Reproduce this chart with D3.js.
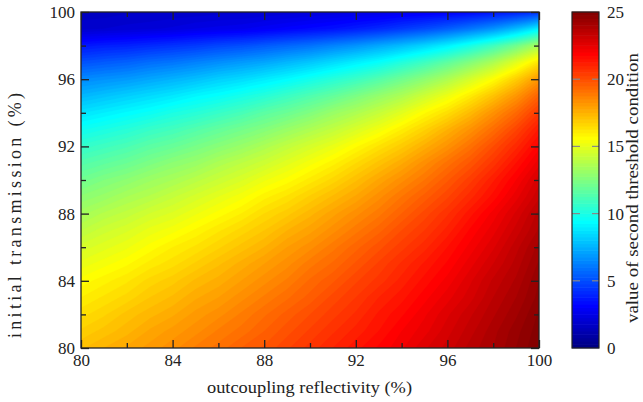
<!DOCTYPE html>
<html><head><meta charset="utf-8">
<script src="https://cdn.jsdelivr.net/npm/d3@7"></script>
<style>
body{margin:0;background:#fff}
svg{display:block}
text{font-family:"Liberation Serif",serif;fill:#222}
</style></head>
<body><svg id="chart" width="643" height="402"></svg>
<script>
// outcoupling reflectivity R (%) — grid columns
const reflectivity = [80,81,82,83,84,85,86,87,88,89,90,91,92,93,94,95,96,97,98,99,100];
// initial transmission T0 (%) — grid rows, top to bottom
const transmission = [100,99,98,97,96,95,94,93,92,91,90,89,88,87,86,85,84,83,82,81,80];
// value of second threshold condition, one row per transmission value
const rowT100 = [1.6,1.6,1.7,1.7,1.8,1.8,1.9,1.9,2.0,2.1,2.2,2.3,2.4,2.5,2.7,2.8,3.0,3.2,3.5,3.8,4.2];
const rowT99 = [1.9,2.0,2.1,2.2,2.3,2.5,2.6,2.7,2.9,3.1,3.3,3.5,3.8,4.1,4.5,4.9,5.4,6.0,6.7,7.7,9.0];
const rowT98 = [3.6,3.8,3.9,4.1,4.3,4.5,4.8,5.0,5.3,5.6,5.9,6.3,6.7,7.2,7.7,8.3,9.0,9.9,10.9,12.1,13.5];
const rowT97 = [5.1,5.3,5.5,5.8,6.0,6.3,6.6,6.9,7.2,7.6,8.0,8.5,9.0,9.5,10.2,10.9,11.7,12.6,13.6,14.9,16.3];
const rowT96 = [6.5,6.7,6.9,7.2,7.5,7.8,8.2,8.5,8.9,9.3,9.8,10.3,10.8,11.4,12.1,12.8,13.6,14.6,15.6,16.8,18.2];
const rowT95 = [7.6,7.9,8.2,8.5,8.8,9.2,9.5,9.9,10.3,10.8,11.3,11.8,12.4,13.0,13.6,14.4,15.2,16.1,17.1,18.2,19.5];
const rowT94 = [8.7,9.0,9.3,9.6,10.0,10.3,10.7,11.1,11.6,12.0,12.5,13.1,13.6,14.2,14.9,15.7,16.4,17.3,18.3,19.3,20.5];
const rowT93 = [9.7,10.0,10.3,10.7,11.0,11.4,11.8,12.2,12.6,13.1,13.6,14.1,14.7,15.3,16.0,16.7,17.5,18.3,19.2,20.2,21.3];
const rowT92 = [10.6,10.9,11.2,11.6,11.9,12.3,12.7,13.1,13.6,14.1,14.6,15.1,15.7,16.3,16.9,17.6,18.3,19.1,20.0,20.9,21.9];
const rowT91 = [11.4,11.7,12.0,12.4,12.8,13.1,13.6,14.0,14.4,14.9,15.4,15.9,16.5,17.1,17.7,18.4,19.1,19.8,20.6,21.5,22.4];
const rowT90 = [12.1,12.5,12.8,13.2,13.5,13.9,14.3,14.7,15.2,15.6,16.1,16.6,17.2,17.8,18.4,19.0,19.7,20.4,21.2,22.0,22.9];
const rowT89 = [12.8,13.1,13.5,13.8,14.2,14.6,15.0,15.4,15.9,16.3,16.8,17.3,17.8,18.4,19.0,19.6,20.2,20.9,21.6,22.4,23.2];
const rowT88 = [13.4,13.8,14.1,14.5,14.8,15.2,15.6,16.0,16.5,16.9,17.4,17.9,18.4,18.9,19.5,20.1,20.7,21.4,22.1,22.8,23.6];
const rowT87 = [14.0,14.4,14.7,15.1,15.4,15.8,16.2,16.6,17.0,17.5,17.9,18.4,18.9,19.4,20.0,20.5,21.1,21.8,22.4,23.1,23.8];
const rowT86 = [14.6,14.9,15.2,15.6,16.0,16.3,16.7,17.1,17.5,18.0,18.4,18.9,19.4,19.9,20.4,20.9,21.5,22.1,22.7,23.4,24.1];
const rowT85 = [15.1,15.4,15.7,16.1,16.4,16.8,17.2,17.6,18.0,18.4,18.9,19.3,19.8,20.3,20.8,21.3,21.8,22.4,23.0,23.6,24.3];
const rowT84 = [15.6,15.9,16.2,16.6,16.9,17.3,17.6,18.0,18.4,18.8,19.3,19.7,20.2,20.6,21.1,21.6,22.1,22.7,23.3,23.8,24.5];
const rowT83 = [16.0,16.3,16.6,17.0,17.3,17.7,18.0,18.4,18.8,19.2,19.6,20.1,20.5,21.0,21.4,21.9,22.4,22.9,23.5,24.0,24.6];
const rowT82 = [16.4,16.7,17.1,17.4,17.7,18.1,18.4,18.8,19.2,19.6,20.0,20.4,20.8,21.3,21.7,22.2,22.7,23.2,23.7,24.2,24.8];
const rowT81 = [16.8,17.1,17.4,17.8,18.1,18.4,18.8,19.1,19.5,19.9,20.3,20.7,21.1,21.5,22.0,22.4,22.9,23.4,23.9,24.4,24.9];
const rowT80 = [17.2,17.5,17.8,18.1,18.4,18.8,19.1,19.5,19.8,20.2,20.6,21.0,21.4,21.8,22.2,22.7,23.1,23.6,24.0,24.5,25.0];
const valueRows = [rowT100,rowT99,rowT98,rowT97,rowT96,rowT95,rowT94,rowT93,rowT92,rowT91,rowT90,
  rowT89,rowT88,rowT87,rowT86,rowT85,rowT84,rowT83,rowT82,rowT81,rowT80];
const axisTicks = [80,84,88,92,96,100];
const axisMinorTicks = [82,86,90,94,98];
const colorTicks = [0,5,10,15,20,25];

const svg = d3.select("#chart");
const M = {left:81, right:539, top:12, bottom:348};
const x = d3.scaleLinear().domain([80,100]).range([M.left, M.right]);
const y = d3.scaleLinear().domain([80,100]).range([M.bottom, M.top]);
const FS = "17px";

function jet(t){
  const c = v => Math.max(0, Math.min(1, v));
  const r = c(1.5 - Math.abs(4*t - 3)), g = c(1.5 - Math.abs(4*t - 2)), b = c(1.5 - Math.abs(4*t - 1));
  return d3.rgb(r*255, g*255, b*255).toString();
}
const vmax = 25, step = 0.25;
const levels = d3.range(0, vmax, step);
const color = v => jet(Math.max(0, Math.min(1, v / vmax)));

// contour bands
const nx = reflectivity.length, ny = transmission.length;
const gx = d3.scaleLinear().domain([0.5, nx - 0.5]).range([x(reflectivity[0]), x(reflectivity[nx-1])]);
const gy = d3.scaleLinear().domain([0.5, ny - 0.5]).range([y(transmission[0]), y(transmission[ny-1])]);
const proj = d3.geoTransform({point: function(px, py){ this.stream.point(gx(px), gy(py)); }});
const path = d3.geoPath(proj);
const contours = d3.contours().size([nx, ny]).thresholds(levels)(valueRows.flat());

svg.append("clipPath").attr("id","clip").append("rect")
  .attr("x", M.left).attr("y", M.top).attr("width", M.right - M.left).attr("height", M.bottom - M.top);
svg.append("g").attr("clip-path","url(#clip)")
  .selectAll("path").data(contours).join("path")
  .attr("d", path)
  .attr("fill", d => color(d.value + step/2))
  .attr("stroke", d => color(d.value + step/2))
  .attr("stroke-width", 0.3);

// axes: ticks inward, mirrored
const tickCol = "#222";
function styleAxis(g){ g.select(".domain").remove(); g.selectAll("line").attr("stroke", tickCol).attr("stroke-width", 1.3);
  g.selectAll("text").style("font-family","Liberation Serif").style("font-size",FS).attr("fill","#222"); }
svg.append("g").attr("transform", `translate(0,${M.bottom})`)
  .call(d3.axisBottom(x).tickValues(axisTicks).tickSize(-8).tickPadding(6).tickFormat(d3.format("d"))).call(styleAxis);
svg.append("g").attr("transform", `translate(0,${M.bottom})`)
  .call(d3.axisBottom(x).tickValues(axisMinorTicks).tickSize(-5).tickFormat("")).call(styleAxis);
svg.append("g").attr("transform", `translate(0,${M.top})`)
  .call(d3.axisTop(x).tickValues(axisTicks).tickSize(-8).tickFormat("")).call(styleAxis);
svg.append("g").attr("transform", `translate(0,${M.top})`)
  .call(d3.axisTop(x).tickValues(axisMinorTicks).tickSize(-5).tickFormat("")).call(styleAxis);
svg.append("g").attr("transform", `translate(${M.left},0)`)
  .call(d3.axisLeft(y).tickValues(axisTicks).tickSize(-8).tickPadding(6).tickFormat(d3.format("d"))).call(styleAxis);
svg.append("g").attr("transform", `translate(${M.left},0)`)
  .call(d3.axisLeft(y).tickValues(axisMinorTicks).tickSize(-5).tickFormat("")).call(styleAxis);
svg.append("g").attr("transform", `translate(${M.right},0)`)
  .call(d3.axisRight(y).tickValues(axisTicks).tickSize(-8).tickFormat("")).call(styleAxis);
svg.append("g").attr("transform", `translate(${M.right},0)`)
  .call(d3.axisRight(y).tickValues(axisMinorTicks).tickSize(-5).tickFormat("")).call(styleAxis);
svg.append("rect").attr("x", M.left).attr("y", M.top).attr("width", M.right - M.left).attr("height", M.bottom - M.top)
  .attr("fill","none").attr("stroke","#222").attr("stroke-width",1.3);

// axis titles
svg.append("text").attr("x", 309.5).attr("y", 393).attr("text-anchor","middle")
  .attr("textLength", 205).attr("lengthAdjust","spacingAndGlyphs")
  .style("font-size",FS).text("outcoupling reflectivity (%)");
svg.append("text").attr("transform", `translate(21,215.5) rotate(-90)`).attr("text-anchor","middle")
  .attr("textLength", 245).attr("lengthAdjust","spacing")
  .style("font-size","18px").text("initial transmission (%)");

// colorbar
const CB = {left:572, right:599};
const cy = d3.scaleLinear().domain([0, vmax]).range([M.bottom, M.top]);
svg.append("g").selectAll("rect").data(levels).join("rect")
  .attr("x", CB.left).attr("width", CB.right - CB.left)
  .attr("y", d => cy(d + step) - 0.3).attr("height", d => cy(d) - cy(d + step) + 0.6)
  .attr("fill", d => color(d + step/2));
const inner = colorTicks.filter(d => d > 0 && d < vmax);
svg.append("g").selectAll("line").data(inner).join("line")
  .attr("x1", CB.left).attr("x2", CB.left + 8).attr("y1", d => cy(d)).attr("y2", d => cy(d))
  .attr("stroke","#888").attr("stroke-width",1.2);
svg.append("g").selectAll("line").data(inner).join("line")
  .attr("x1", CB.right - 7).attr("x2", CB.right).attr("y1", d => cy(d)).attr("y2", d => cy(d))
  .attr("stroke","#888").attr("stroke-width",1.2);
svg.append("rect").attr("x", CB.left).attr("y", M.top).attr("width", CB.right - CB.left).attr("height", M.bottom - M.top)
  .attr("fill","none").attr("stroke","#222").attr("stroke-width",1.2);
svg.append("g").attr("transform", `translate(${CB.right},0)`)
  .call(d3.axisRight(cy).tickValues(colorTicks).tickSize(0).tickPadding(8).tickFormat(d3.format("d")))
  .call(g => { g.select(".domain").remove(); g.selectAll("text").style("font-family","Liberation Serif").style("font-size",FS).attr("fill","#222"); });
svg.append("text").attr("transform", `translate(638,188) rotate(-90)`).attr("text-anchor","middle")
  .attr("textLength", 270).attr("lengthAdjust","spacingAndGlyphs")
  .style("font-size",FS).text("value of second threshold condition");
</script></body></html>
